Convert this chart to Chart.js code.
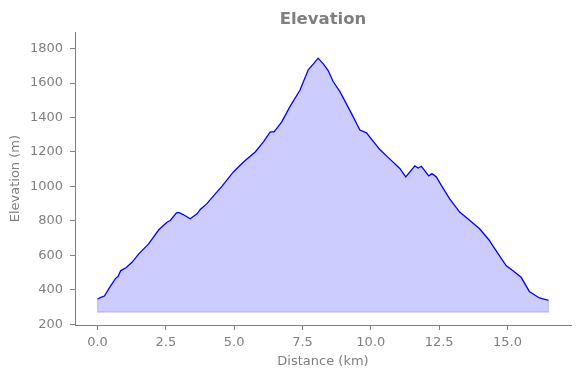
<!DOCTYPE html>
<html>
<head>
<meta charset="utf-8">
<script src="https://cdn.jsdelivr.net/npm/chart.js@4/dist/chart.umd.min.js"></script>
<style>
  html, body { margin: 0; padding: 0; background: #ffffff; }
  #wrap { width: 580px; height: 378px; }
</style>
</head>
<body>
<div id="wrap"><canvas id="elevChart" width="580" height="378"></canvas></div>
<script>
// profile
var distanceKm = [0.00, 0.12, 0.25, 0.45, 0.66, 0.75, 0.85, 1.04, 1.26, 1.51, 1.87, 2.24, 2.54, 2.66,
  2.88, 2.97, 3.15, 3.39, 3.64, 3.76, 4.00, 4.30, 4.55, 4.97, 5.34, 5.77, 6.07, 6.32, 6.46, 6.74,
  7.04, 7.41, 7.71, 7.90, 8.07, 8.26, 8.44, 8.62, 8.87, 9.29, 9.60, 9.84, 10.33, 10.69, 11.06,
  11.28, 11.61, 11.73, 11.85, 12.12, 12.24, 12.40, 12.58, 12.88, 13.25, 13.55, 13.98, 14.34,
  14.46, 14.95, 15.19, 15.50, 15.80, 16.17, 16.47, 16.50];
var elevationM = [346, 355, 363, 415, 466, 476, 511, 527, 559, 608, 666, 748, 792, 802,
  845, 849, 835, 812, 841, 866, 900, 955, 1000, 1084, 1142, 1200, 1259, 1317, 1317, 1375,
  1463, 1560, 1677, 1712, 1745, 1712, 1673, 1609, 1550, 1424, 1327, 1311, 1214, 1160, 1104,
  1055, 1119, 1107, 1117, 1061, 1074, 1055, 1006, 929, 851, 812, 754, 686,
  656, 540, 511, 472, 390, 352, 340, 340];
var fillBase = 270;
var xTicks = [0, 2.5, 5, 7.5, 10, 12.5, 15];
var yTicks = [200, 400, 600, 800, 1000, 1200, 1400, 1600, 1800];

var grey = '#7f7f7f';
var points = distanceKm.map(function (d, i) { return { x: d, y: elevationM[i] }; });
var last = distanceKm.length - 1;
// outline of the filled polygon (left, bottom and right edges)
var edgePoints = [
  { x: distanceKm[0], y: elevationM[0] },
  { x: distanceKm[0], y: fillBase },
  { x: distanceKm[last], y: fillBase },
  { x: distanceKm[last], y: elevationM[last] }
];

var tickFont = { family: 'DejaVu Sans', size: 13 };

new Chart(document.getElementById('elevChart').getContext('2d'), {
  type: 'line',
  data: {
    datasets: [{
      data: points,
      borderColor: '#0000ff',
      borderWidth: 1.3,
      backgroundColor: 'rgba(0, 0, 255, 0.2)',
      fill: { value: fillBase },
      pointRadius: 0,
      tension: 0,
      order: 1
    }, {
      data: edgePoints,
      borderColor: 'rgba(0, 0, 255, 0.2)',
      borderWidth: 1.2,
      fill: false,
      pointRadius: 0,
      tension: 0,
      order: 2
    }]
  },
  options: {
    responsive: false,
    animation: false,
    layout: { padding: { left: 0, right: 9, top: 0, bottom: 0 } },
    plugins: {
      legend: { display: false },
      tooltip: { enabled: false },
      title: {
        display: true,
        text: 'Elevation',
        color: grey,
        fullSize: false,
        font: { family: 'DejaVu Sans', size: 16.5, weight: 'bold', lineHeight: 1.2 },
        padding: { top: 9.5, bottom: 3 }
      }
    },
    scales: {
      x: {
        type: 'linear',
        min: -0.825,
        max: 17.325,
        afterFit: function (s) { s.height = 53; },
        afterBuildTicks: function (s) {
          s.ticks = xTicks.map(function (v) { return { value: v }; });
        },
        ticks: {
          color: grey,
          font: tickFont,
          padding: 5,
          maxRotation: 0,
          callback: function (v) { return v.toFixed(1); }
        },
        grid: { drawOnChartArea: false, drawTicks: true, tickLength: 5, color: grey },
        border: { color: grey, width: 1 },
        title: {
          display: true,
          text: 'Distance (km)',
          color: grey,
          font: { family: 'DejaVu Sans', size: 13, lineHeight: 1.2 },
          padding: { top: 0, bottom: 8.5 }
        }
      },
      y: {
        min: 195,
        max: 1895,
        afterFit: function (s) { s.width = 75; },
        afterBuildTicks: function (s) {
          s.ticks = yTicks.map(function (v) { return { value: v }; });
        },
        ticks: {
          color: grey,
          font: tickFont,
          padding: 7,
          callback: function (v) { return String(v); }
        },
        grid: { drawOnChartArea: false, drawTicks: true, tickLength: 5, color: grey },
        border: { color: grey, width: 1 },
        title: {
          display: true,
          text: 'Elevation (m)',
          color: grey,
          font: { family: 'DejaVu Sans', size: 13, lineHeight: 1.2 },
          padding: { top: 8, bottom: 0 }
        }
      }
    }
  }
});
</script>
</body>
</html>
